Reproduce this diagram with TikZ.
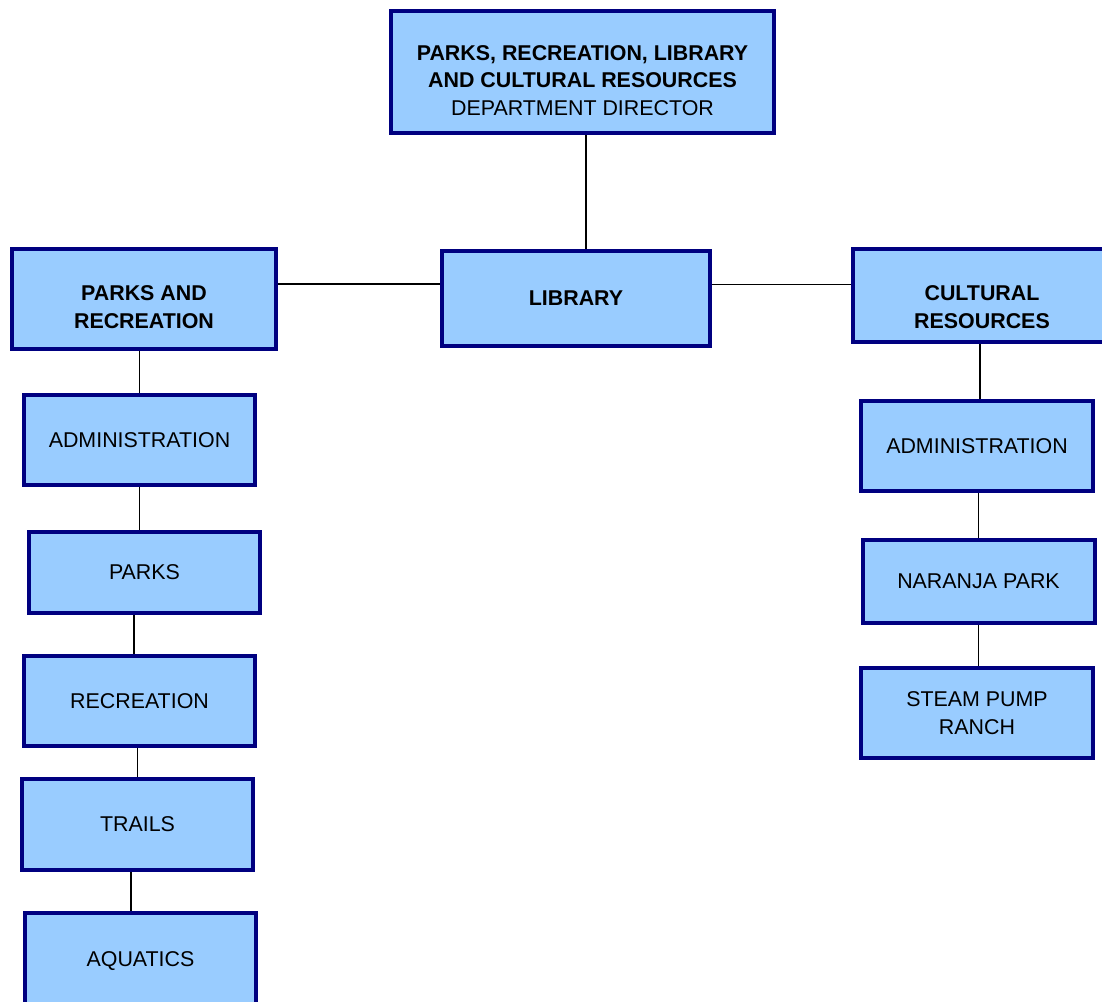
\documentclass[tikz,border=0pt]{standalone}
\usepackage{fontspec}
\setmainfont{Liberation Sans}
\usepackage{xcolor}
\usepackage{tikz}
\usetikzlibrary{positioning}
\definecolor{boxfill}{HTML}{99CCFF}
\definecolor{boxline}{HTML}{000080}
\tikzset{
  unit/.style={draw=boxline,line width=2pt,fill=boxfill,align=center,
               minimum width=116pt,minimum height=45pt,inner sep=2pt,
               font=\fontsize{10.7}{13.75}\selectfont},
  head/.style={unit,font=\fontsize{10.7}{13.75}\selectfont\bfseries},
  link/.style={draw=black,line width=0.6pt}
}
% extra room above the first line pushes a heading down in its box
\newcommand{\padtop}[1]{\rule{0pt}{#1}}

\begin{document}
\begin{tikzpicture}[x=0.5pt,y=-0.5pt]
  \clip (0,0) rectangle (1102,1001);

  % top of the tree
  \node[unit,minimum width=191.5pt,minimum height=61pt] (dir) at (582.5,72)
    {\padtop{16pt}\textbf{PARKS, RECREATION, LIBRARY}\\\textbf{AND CULTURAL RESOURCES}\\DEPARTMENT DIRECTOR};

  % divisions
  \node[head,minimum width=132pt,minimum height=50pt] (pr) at (144,299) {\padtop{15.7pt}PARKS AND\\RECREATION};
  \node[head,minimum width=134pt,minimum height=47.5pt] (lib) at (576,298.5) {LIBRARY};
  \node[head,minimum width=129pt,minimum height=46.5pt] (cr) at (982,295.5) {\padtop{19pt}CULTURAL\\RESOURCES};

  % parks and recreation sections
  \node[unit,minimum width=115.5pt] (padm) at (139.5,440) {ADMINISTRATION};
  \node[unit,minimum width=115.5pt,minimum height=40.5pt] (parks) at (144.5,572.5) {PARKS};
  \node[unit,minimum width=115.5pt] (rec) at (139.5,701) {RECREATION};
  \node[unit,minimum width=115.5pt,minimum height=45.5pt] (trails) at (137.5,824.5) {TRAILS};
  \node[unit,minimum width=115.5pt,minimum height=46pt] (aqua) at (140.5,959) {\padtop{9.5pt}AQUATICS};

  % cultural resources sections
  \node[unit] (cadm) at (977,446) {ADMINISTRATION};
  \node[unit,minimum height=41.5pt] (naranja) at (978.5,581.5) {NARANJA PARK};
  \node[unit] (steam) at (977,713) {STEAM PUMP\\RANCH};

  % connectors
  \draw[link] ([xshift=1.75pt]dir.south) -- ([xshift=1.75pt]dir.south |- lib.north);
  \draw[link] ([yshift=7.5pt]pr.east) -- ([yshift=7.5pt]pr.east -| lib.west);
  \draw[link] ([yshift=7pt]lib.east) -- ([yshift=7pt]lib.east -| cr.west);

  \draw[link] (padm.north) -- (padm.north |- pr.south);
  \draw[link] (padm.south) -- (padm.south |- parks.north);
  \draw[link] ([xshift=-2.75pt]rec.north) -- ([xshift=-2.75pt]rec.north |- parks.south);
  \draw[link] (trails.north) -- (trails.north |- rec.south);
  \draw[link] ([xshift=-3.25pt]trails.south) -- ([xshift=-3.25pt]trails.south |- aqua.north);

  \draw[link] ([xshift=-1pt]cr.south) -- ([xshift=-1pt]cr.south |- cadm.north);
  \draw[link] (naranja.north) -- (naranja.north |- cadm.south);
  \draw[link] (naranja.south) -- (naranja.south |- steam.north);
\end{tikzpicture}
\end{document}
